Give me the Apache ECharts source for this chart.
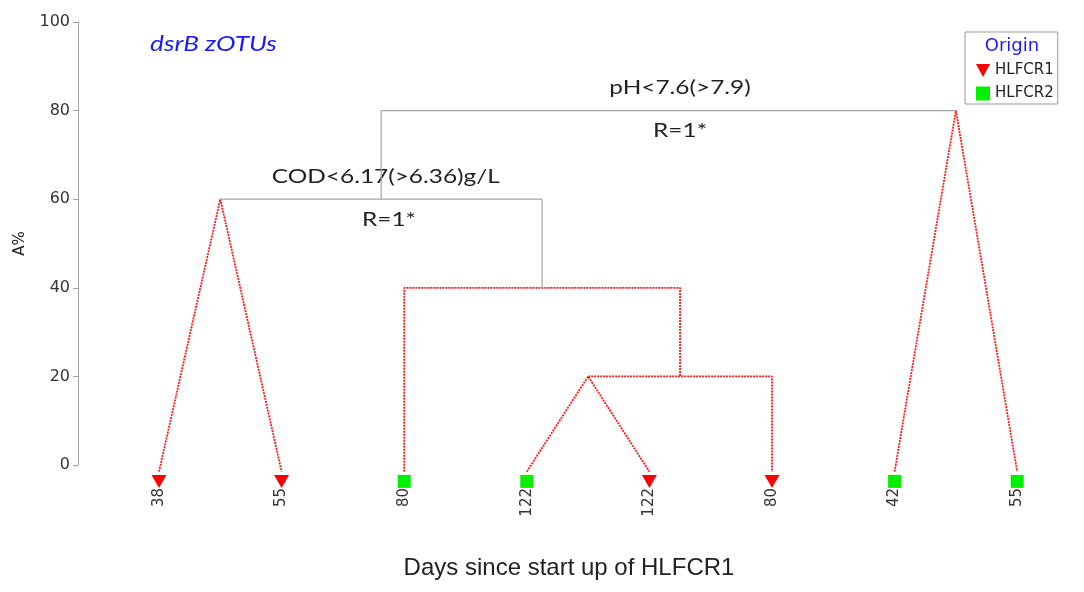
<!DOCTYPE html>
<html><head><meta charset="utf-8">
<script src="https://cdn.jsdelivr.net/npm/echarts@6/dist/echarts.min.js"></script>
<style>html,body{margin:0;padding:0;background:#fff}#c{width:1084px;height:592px}</style>
</head><body><div id="c"></div>
<script>
// Leaves (left to right)
const leafDays = ['38','55','80','122','122','80','42','55'];
const leafOrigin = ['HLFCR1','HLFCR1','HLFCR2','HLFCR2','HLFCR1','HLFCR1','HLFCR2','HLFCR2'];
const yTicks = [0, 20, 40, 60, 80, 100];
const leafY = -1.5;      // where branches meet the leaves
const markerY = -3.7;    // leaf marker level
// Dendrogram branches, [leaf-index position, A% height]
const redLinks = [
  [[0, leafY], [0.5, 60], [1, leafY]],
  [[2, leafY], [2, 40], [4.25, 40], [4.25, 20]],
  [[3, leafY], [3.5, 20], [4, leafY]],
  [[3.5, 20], [5, 20], [5, leafY]],
  [[6, leafY], [6.5, 80], [7, leafY]]
];
const greyLinks = [
  [[3.125, 40], [3.125, 60]],
  [[0.5, 60], [3.125, 60]],
  [[1.8125, 60], [1.8125, 80]],
  [[1.8125, 80], [6.5, 80]]
];
// Annotations: [text, x position, height]
const notes = [
  ['pH<7.6(>7.9)', 4.25, 85.3],
  ['R=1*', 4.25, 75.4],
  ['COD<6.17(>6.36)g/L', 1.85, 65.2],
  ['R=1*', 1.876, 55.5]
];

const lato = 'Lato, "Open Sans", sans-serif';
const dv = '"DejaVu Sans", sans-serif';
const series = [];
redLinks.forEach(p => series.push({type:'line', xAxisIndex:1, data:p, symbol:'none', clip:false, silent:true,
  lineStyle:{color:'#ff1a1a', width:1.8, type:[2,1]}}));
greyLinks.forEach(p => series.push({type:'line', xAxisIndex:1, data:p, symbol:'none', clip:false, silent:true,
  lineStyle:{color:'#a6a6a6', width:1.2}}));
series.push({name:'HLFCR1', type:'scatter', xAxisIndex:1, clip:false, symbol:'triangle', symbolRotate:180, symbolSize:[15,13],
  itemStyle:{color:'#ff0000', opacity:1},
  data: leafOrigin.map((o,i)=>o==='HLFCR1'?[i,markerY]:null).filter(d=>d)});
series.push({name:'HLFCR2', type:'scatter', xAxisIndex:1, clip:false, symbol:'rect', symbolSize:13,
  itemStyle:{color:'#00f000', opacity:1},
  data: leafOrigin.map((o,i)=>o==='HLFCR2'?[i,markerY]:null).filter(d=>d)});

const chart = echarts.init(document.getElementById('c'));
chart.setOption({
  animation:false,
  grid:{left:97.7, right:5.5, top:22, bottom:127},
  xAxis:[
    {type:'category', data:leafDays, boundaryGap:true, axisLine:{show:false}, axisTick:{show:false},
     axisLabel:{rotate:90, margin:23, fontFamily:dv, fontSize:15, color:'#333'}},
    {type:'value', min:-0.5, max:7.5, show:false}
  ],
  yAxis:{type:'value', min:yTicks[0], max:yTicks[yTicks.length-1], interval:20, offset:19.7,
    name:'A%', nameLocation:'middle', nameGap:50, nameRotate:90,
    nameTextStyle:{fontFamily:dv, fontSize:15, color:'#222'},
    axisLine:{show:true, onZero:false, lineStyle:{color:'#a0a0a0'}},
    axisTick:{show:true, length:5, lineStyle:{color:'#a0a0a0'}},
    axisLabel:{fontFamily:dv, fontSize:16, color:'#333', margin:8},
    splitLine:{show:false}},
  legend:{orient:'vertical', left:965, top:32, padding:[31,4,3,11], itemGap:8,
    itemWidth:14, itemHeight:14, borderColor:'#999', borderWidth:1,
    textStyle:{fontFamily:dv, fontSize:15, color:'#222'},
    data:[{name:'HLFCR1', icon:'path://M0,0L14,0L7,13Z'}, {name:'HLFCR2', icon:'rect'}]},
  series
});

const sx = 1.22;
const graphics = [
  {type:'text', x:1012, y:46, style:{text:'Origin', fill:'#1a1aff', font:'18px '+dv, textAlign:'center', textVerticalAlign:'middle'}},
  {type:'text', x:150, y:44, scaleX:1.25, style:{text:'dsrB zOTUs', fill:'#1a1aff', font:'italic 21px '+lato, textVerticalAlign:'middle'}},
  {type:'text', x:569, y:568, style:{text:'Days since start up of HLFCR1', fill:'#222', font:'24px "Liberation Sans", Arial, sans-serif', textAlign:'center', textVerticalAlign:'middle'}}
];
notes.forEach(n => {
  const p = chart.convertToPixel({xAxisIndex:1, yAxisIndex:0}, [n[1], n[2]]);
  graphics.push({type:'text', x:p[0], y:p[1], scaleX:sx,
    style:{text:n[0], fill:'#222', font:'20px '+lato, textAlign:'center', textVerticalAlign:'middle'}});
});
chart.setOption({graphic:graphics});
</script></body></html>
